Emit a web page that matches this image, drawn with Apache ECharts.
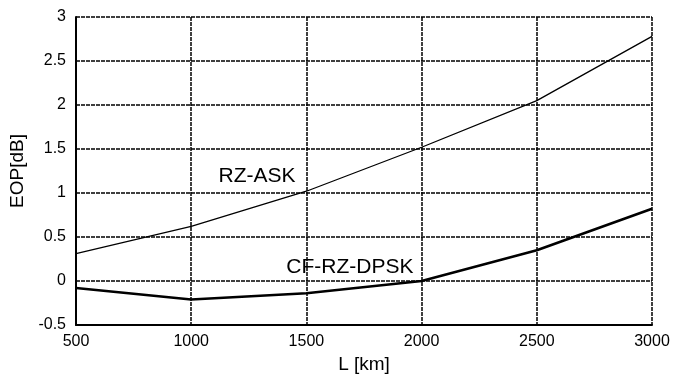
<!DOCTYPE html>
<html lang="en">
<head>
    <meta charset="UTF-8">
    <title>EOP vs L</title>
    <style>
        html, body { margin: 0; padding: 0; background: #fff; }
    </style>
</head>
<body>
    <div id="main" style="width:674px;height:379px;"></div>
</body>
<script src="https://cdn.jsdelivr.net/npm/echarts@6/dist/echarts.min.js"></script>
<script>
    var distances = [500, 1000, 1500, 2000, 2500, 3000];
    var rzAsk = [0.31, 0.62, 1.02, 1.52, 2.05, 2.78];
    var cfRzDpsk = [-0.08, -0.21, -0.14, 0.0, 0.35, 0.82];
    var seriesNames = ['RZ-ASK', 'CF-RZ-DPSK'];
    // where the two curve labels sit, in data units
    var labelSpots = [[1286, 1.19], [1689, 0.16]];

    function pairs(xs, ys) {
        return xs.map(function (x, i) { return [x, ys[i]]; });
    }

    var main = echarts.init(document.getElementById('main'));
    var font = 'Liberation Sans, Arial, sans-serif';
    var gridLine = { color: '#000', width: 1.5, type: [4, 1] };

    function tag(i) {
        return {
            silent: true,
            symbol: 'circle',
            symbolSize: 2,
            itemStyle: { color: 'rgba(0,0,0,0)' },
            label: {
                show: true,
                formatter: seriesNames[i],
                color: '#000',
                fontSize: 21,
                fontFamily: font,
                position: 'inside'
            },
            data: [{ coord: labelSpots[i] }]
        };
    }

    var option = {
        backgroundColor: '#fff',
        animation: false,
        grid: { left: 76, right: 22, top: 17, bottom: 54 },
        xAxis: {
            type: 'value',
            min: 500,
            max: 3000,
            interval: 500,
            name: 'L [km]',
            nameLocation: 'middle',
            nameGap: 26,
            nameTextStyle: { color: '#000', fontSize: 19, fontFamily: font },
            axisLine: { onZero: false, lineStyle: { color: '#000', width: 2 } },
            axisTick: { show: false },
            axisLabel: {
                color: '#000', fontSize: 16, fontFamily: font, margin: 9,
                formatter: function (v) { return String(v); }
            },
            splitLine: { show: true, lineStyle: gridLine }
        },
        yAxis: {
            type: 'value',
            min: -0.5,
            max: 3,
            interval: 0.5,
            name: 'EOP[dB]',
            nameLocation: 'middle',
            nameRotate: 90,
            nameGap: 45,
            nameTextStyle: { color: '#000', fontSize: 19, fontFamily: font },
            axisLine: { lineStyle: { color: '#000', width: 2 } },
            axisTick: { show: false },
            axisLabel: { color: '#000', fontSize: 16, fontFamily: font, margin: 10 },
            splitLine: { show: true, lineStyle: gridLine }
        },
        series: [{
            name: seriesNames[0],
            type: 'line',
            showSymbol: false,
            lineStyle: { color: '#000', width: 1.3 },
            data: pairs(distances, rzAsk),
            markPoint: tag(0)
        }, {
            name: seriesNames[1],
            type: 'line',
            showSymbol: false,
            lineStyle: { color: '#000', width: 2.6 },
            data: pairs(distances, cfRzDpsk),
            markPoint: tag(1)
        }]
    };
    main.setOption(option);
</script>
</html>
